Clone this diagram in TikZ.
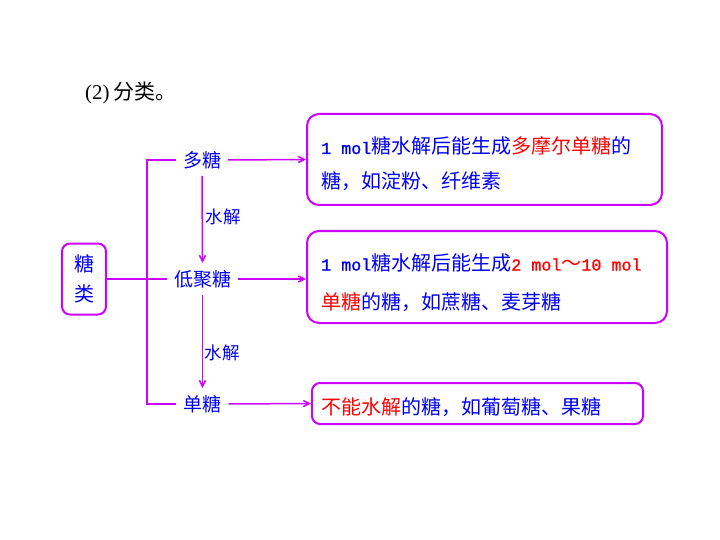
\documentclass[tikz,border=0pt]{standalone}
\usepackage{fontspec}
\setmainfont{Noto Sans CJK SC}
\newfontfamily\monof[Scale=0.835,FakeBold=1.2]{Liberation Mono}
\newfontfamily\seriff{Liberation Serif}
\usetikzlibrary{arrows.meta}
\definecolor{mag}{RGB}{204,0,255}
\definecolor{txtblue}{RGB}{0,0,240}
\definecolor{txtred}{RGB}{255,0,0}
\tikzset{
  lbl/.style={text=txtblue,font=\fontsize{19}{22}\selectfont,inner xsep=7pt,inner ysep=7pt},
  small/.style={text=txtblue,font=\fontsize{17.5}{20}\selectfont,inner sep=0pt},
  frame/.style={draw=mag,line width=2pt,rounded corners=12pt},
  line/.style={draw=mag,line width=1.5pt},
  arr/.style={line,-{Straight Barb[length=6pt,width=6pt]}},
  btext/.style={anchor=base west,inner sep=0pt,text=txtblue,font=\fontsize{20}{24}\selectfont}
}
\begin{document}
\begin{tikzpicture}[x=1pt,y=-1pt]
\path[use as bounding box] (0,0) rectangle (720,540);
% title
\node[anchor=west,inner sep=0pt,font=\fontsize{21}{24}\selectfont] (title) at (85,93) {{\seriff (2)\,}分类。};
% left box
\node[frame,rounded corners=8pt,minimum width=44pt,minimum height=71pt,align=center,text=txtblue,font=\fontsize{20}{30}\selectfont,inner sep=0pt] (tl) at (84,279) {糖\\类};
% category labels
\node[lbl] (duo) at (202,160) {多糖};
\node[lbl] (dj) at (202.5,279) {低聚糖};
\node[lbl] (dan) at (202.5,404) {单糖};
\node[small] (s1) at (223,217) {水解};
\node[small] (s2) at (222,353) {水解};
% right boxes
\node[frame,minimum width=355pt,minimum height=91pt] (b1) at (484.5,159.5) {};
\node[frame,minimum width=360pt,minimum height=92pt] (b2) at (487,277) {};
\node[frame,rounded corners=8pt,minimum width=331pt,minimum height=41pt] (b3) at (477.5,403.5) {};
\node[btext] (t11) at (321,154) {{\monof 1 mol}糖水解后能生成\textcolor{txtred}{多摩尔单糖}的};
\node[btext] (t12) at (321,189) {糖，如淀粉、纤维素};
\node[btext] (t21) at (321,270.5) {{\monof 1 mol}糖水解后能生成\textcolor{txtred}{{\monof 2 mol}～{\monof 10 mol}}};
\node[btext] (t22) at (321,309) {\textcolor{txtred}{单糖}的糖，如蔗糖、麦芽糖};
\node[btext] (t31) at (321,414) {\textcolor{txtred}{不能水解}的糖，如葡萄糖、果糖};
% connectors
\coordinate (c1) at (147,160);
\coordinate (c2) at (147,404);
\draw[line] (duo.west) -- (c1) -- (c2) -- (dan.west);
\draw[line] (tl.east) -- (dj.west);
\draw[arr] (duo.east) -- (b1.west);
\draw[arr] (dj.east) -- (dj.east -| b2.west);
\draw[arr] (dan.east) -- (b3.west);
\draw[arr] (duo.south) -- (dj.north);
\draw[arr] (dj.south) -- (dan.north);
\end{tikzpicture}
\end{document}
